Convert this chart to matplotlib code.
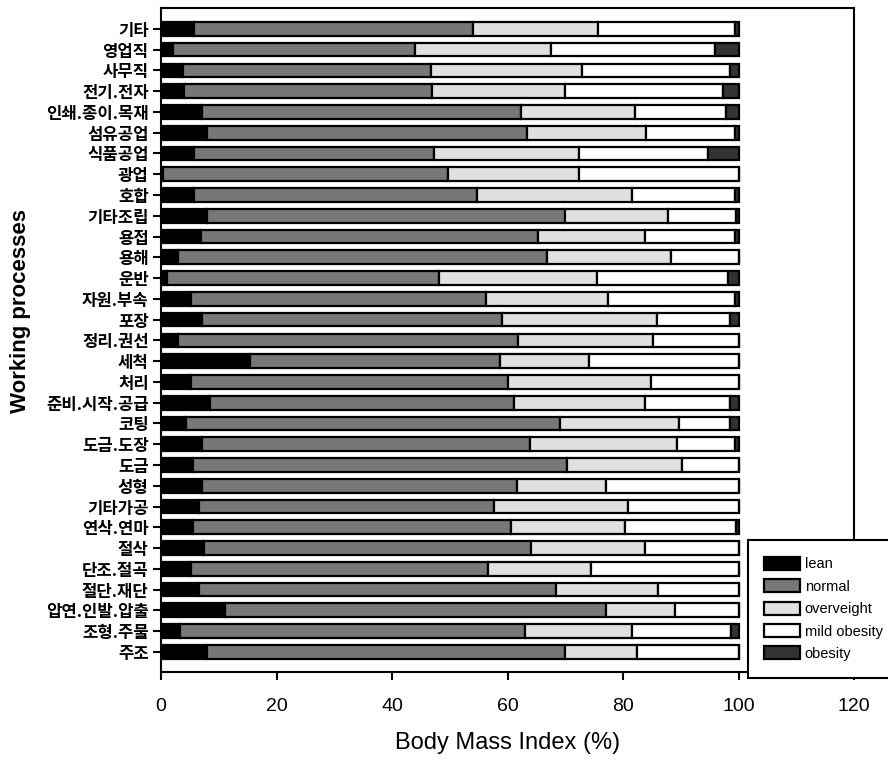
import matplotlib
matplotlib.use("Agg")
import matplotlib.pyplot as plt
import numpy as np

plt.rcParams['font.family'] = ['Noto Sans CJK KR', 'DejaVu Sans']

categories = ['기타', '영업직', '사무직', '전기.전자', '인쇄.종이.목재', '섬유공업', '식품공업',
              '광업', '호합', '기타조립', '용접', '용해', '운반', '자원.부속', '포장', '정리.권선',
              '세척', '처리', '준비.시작.공급', '코팅', '도금.도장', '도금', '성형', '기타가공',
              '연삭.연마', '절삭', '단조.절곡', '절단.재단', '압연.인발.압출', '조형.주물', '주조']

lean = [5.7, 2.0, 3.7, 4.0, 7.0, 8.0, 5.7, 0.3, 5.7, 8.0, 6.9, 3.0, 1.0, 5.1, 7.1, 3.0,
        15.3, 5.1, 8.5, 4.3, 7.1, 5.5, 7.1, 6.5, 5.5, 7.4, 5.1, 6.5, 11.0, 3.3, 8.0]
normal = [48.3, 41.9, 43.0, 42.9, 55.3, 55.3, 41.6, 49.3, 49.0, 62.0, 58.4, 63.8, 47.1, 51.1, 51.9, 58.8,
          43.3, 55.0, 52.6, 64.8, 56.8, 64.8, 54.5, 51.1, 55.0, 56.7, 51.5, 61.9, 66.0, 59.7, 62.0]
overweight = [21.7, 23.6, 26.2, 23.1, 19.8, 20.7, 25.0, 22.7, 26.9, 17.8, 18.5, 21.5, 27.3, 21.2, 26.8, 23.4,
              15.4, 24.7, 22.7, 20.6, 25.4, 19.9, 15.5, 23.3, 19.8, 19.6, 17.8, 17.7, 12.0, 18.6, 12.4]
mild_obesity = [23.6, 28.4, 25.5, 27.2, 15.7, 15.3, 22.3, 27.7, 17.7, 11.8, 15.5, 11.7, 22.7, 21.9, 12.6, 14.8,
                26.0, 15.2, 14.6, 8.7, 10.0, 9.8, 22.9, 19.1, 19.2, 16.3, 25.6, 13.9, 11.0, 17.1, 17.6]
obesity = [0.7, 4.1, 1.6, 2.8, 2.2, 0.7, 5.4, 0.0, 0.7, 0.4, 0.7, 0.0, 1.9, 0.7, 1.6, 0.0,
           0.0, 0.0, 1.6, 1.6, 0.7, 0.0, 0.0, 0.0, 0.5, 0.0, 0.0, 0.0, 0.0, 1.3, 0.0]

series_names = ['lean', 'normal', 'overveight', 'mild obesity', 'obesity']
series = [lean, normal, overweight, mild_obesity, obesity]
colors = ['#000000', '#777777', '#e0e0e0', '#ffffff', '#333333']
x_ticks = [0, 20, 40, 60, 80, 100, 120]

latin = ['Liberation Sans', 'DejaVu Sans']

fig = plt.figure(figsize=(8.88, 7.66), dpi=100)
ax = fig.add_axes([0.1815, 0.1227, 0.7805, 0.867])

y = np.arange(len(categories))
left = np.zeros(len(categories))
handles = []
for name, vals, c in zip(series_names, series, colors):
    vals = np.array(vals)
    h = ax.barh(y, vals, left=left, height=0.66, color=c, edgecolor='black',
                linewidth=1.6, label=name)
    handles.append(h)
    left += vals

ax.set_ylim(len(categories) - 1 + 0.97, -1.01)
ax.set_xlim(0, 120)
ax.set_xticks(x_ticks)
ax.set_xticklabels([str(t) for t in x_ticks], family=latin, fontsize=14)
ax.set_yticks(y)
ax.set_yticklabels(categories, fontsize=12, fontweight='bold')
ax.tick_params(axis='both', direction='out', length=6, width=1.5, colors='black')
ax.tick_params(axis='x', pad=13)
ax.tick_params(axis='y', pad=3)
for s in ax.spines.values():
    s.set_linewidth(1.5)

ax.set_xlabel('Body Mass Index (%)', family=latin, fontsize=17, labelpad=12)
fig.text(0.023, 0.594, 'Working processes', rotation=90, ha='center', va='center',
         family=latin, fontweight='bold', fontsize=16)

leg = fig.legend(handles=handles, labels=series_names, loc='upper left',
                 bbox_to_anchor=(0.842, 0.295), frameon=True, fancybox=False,
                 framealpha=1, edgecolor='black',
                 prop={'family': latin, 'size': 10.5},
                 handlelength=2.45, handleheight=1.0, labelspacing=0.54,
                 handletextpad=0.3, borderpad=1.15, borderaxespad=0)
leg.get_frame().set_linewidth(1.5)

fig.savefig('out.png', dpi=100)
